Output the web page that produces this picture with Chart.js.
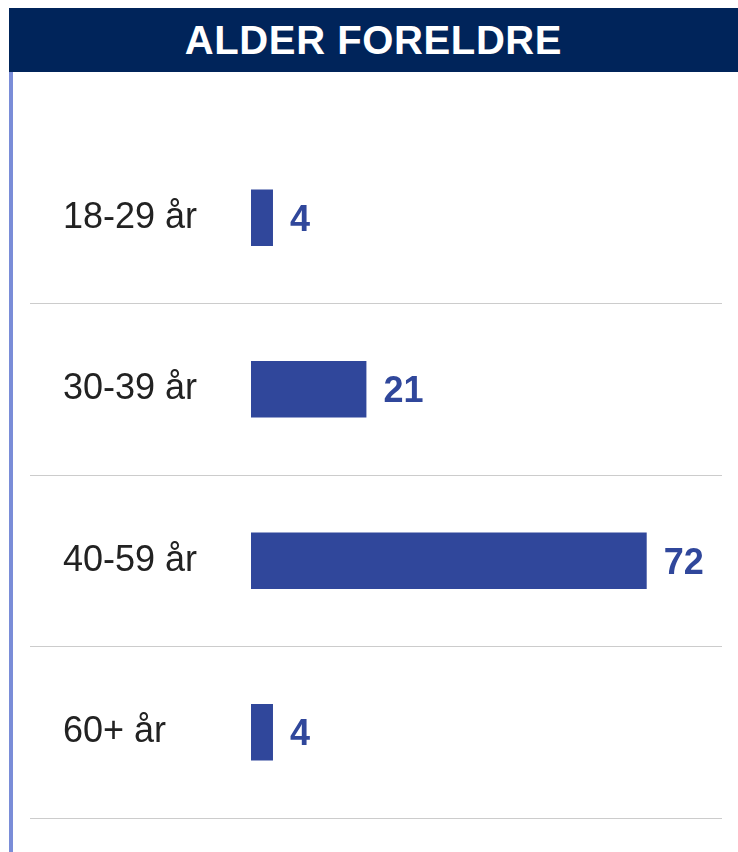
<!DOCTYPE html>
<html>
<head>
<meta charset="utf-8">
<script src="https://cdn.jsdelivr.net/npm/chart.js@4"></script>
<style>
  html, body { margin: 0; padding: 0; background: #fff; }
  body { width: 738px; height: 852px; position: relative; overflow: hidden; font-family: "Liberation Sans", Arial, sans-serif; }
  #header {
    position: absolute; left: 9px; top: 8px; width: 729px; height: 64px;
    background: #00245a; color: #fff; font-weight: bold; font-size: 40px;
    line-height: 64px; text-align: center; letter-spacing: 0.6px;
  }
  #edge { position: absolute; left: 9px; top: 72px; width: 4px; height: 780px; background: #7a8dd8; z-index: 2; }
  #wrap { position: absolute; left: 0; top: 72px; width: 738px; height: 780px; }
</style>
</head>
<body>
<div id="header">ALDER FORELDRE</div>
<div id="edge"></div>
<div id="wrap"><canvas id="chart"></canvas></div>
<script>
// age groups and share of parents (%)
const categories = ['18-29 år', '30-39 år', '40-59 år', '60+ år'];
const values = [4, 21, 72, 4];

const BAR = '#30479b';
const SEP = '#cccccc';

// value labels to the right of each bar
const valueLabels = {
  id: 'valueLabels',
  afterDatasetsDraw(chart) {
    const { ctx } = chart;
    const meta = chart.getDatasetMeta(0);
    ctx.save();
    ctx.font = 'bold 36px "Liberation Sans", Arial, sans-serif';
    ctx.fillStyle = BAR;
    ctx.textAlign = 'left';
    ctx.textBaseline = 'middle';
    meta.data.forEach((bar, i) => {
      ctx.fillText(String(values[i]), bar.x + 17, bar.y + 3);
    });
    ctx.restore();
  }
};

const sepColor = c => (c.index === 0 ? 'rgba(0,0,0,0)' : SEP);

new Chart(document.getElementById('chart'), {
  type: 'bar',
  data: {
    labels: categories,
    datasets: [{ data: values, backgroundColor: BAR, barPercentage: 0.33, categoryPercentage: 1 }]
  },
  options: {
    indexAxis: 'y',
    responsive: true,
    maintainAspectRatio: false,
    animation: false,
    layout: { padding: { left: 63, right: 16, top: 60, bottom: 34 } },
    plugins: { legend: { display: false }, tooltip: { enabled: false } },
    scales: {
      x: { display: false, min: 0, max: 85.7 },
      y: {
        afterFit: s => { s.width = 188; },
        border: { display: false },
        grid: { color: sepColor, tickColor: sepColor, tickLength: 221, lineWidth: 1 },
        ticks: {
          crossAlign: 'far', autoSkip: false, color: '#222',
          font: { family: '"Liberation Sans", Arial, sans-serif', size: 36 }
        }
      }
    }
  },
  plugins: [valueLabels]
});
</script>
</body>
</html>
